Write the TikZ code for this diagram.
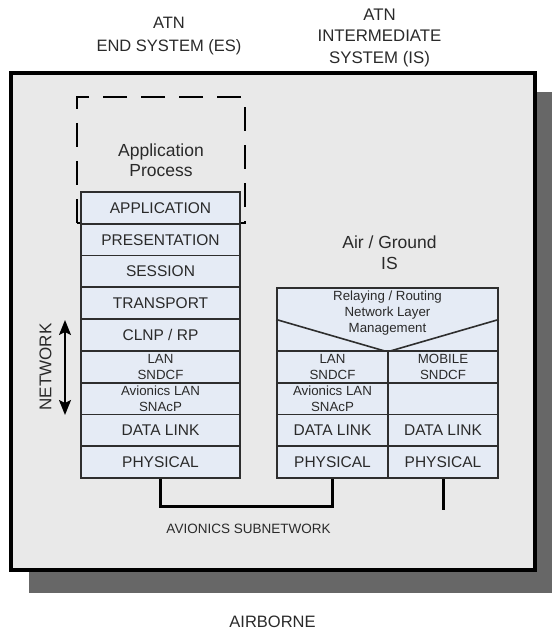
\documentclass[tikz,border=0pt]{standalone}
\usepackage{fontspec}
\setmainfont{Liberation Sans}
\usetikzlibrary{arrows.meta}
\definecolor{bggray}{HTML}{E9E9E9}
\definecolor{shadowgray}{HTML}{676767}
\definecolor{cellblue}{HTML}{E5EBF5}
\definecolor{edgecol}{HTML}{2E2E2E}
\definecolor{ink}{HTML}{2A2A2A}
\begin{document}
\begin{tikzpicture}[x=1pt,y=-1pt,
  cell/.style={draw=edgecol, line width=1.6pt, fill=cellblue, inner sep=0pt,
    minimum height=31.78pt, text=ink, align=center},
  bigcell/.style={cell, font=\fontsize{15.5}{18}\selectfont},
  smallcell/.style={cell, font=\fontsize{13.3}{16}\selectfont},
  eswide/.style={minimum width=159pt},
  isleft/.style={minimum width=111pt},
  isright/.style={minimum width=110pt},
  heading/.style={text=ink, align=center, inner sep=0pt},
  wire/.style={line width=3pt, draw=black},
]
\useasboundingbox (0,0) rectangle (552,631);
% shadow and frame
\fill[shadowgray] (29,92) rectangle (552,593);
\draw[line width=4pt, fill=bggray] (10.5,73.5) rectangle (535,570);

% application process (dashed)
\node[draw=black, line width=2pt, dash pattern=on 24pt off 14pt, dash phase=6pt,
  minimum width=168pt, minimum height=126pt, inner sep=0pt, text=ink, align=center,
  font=\fontsize{17.5}{20}\selectfont] (appproc) at (161,160) {Application\\Process};

% ES stack
\node[bigcell, eswide] (esapp) at (160.5,207.9) {APPLICATION};
\node[bigcell, eswide] (espres) at (160.5,239.7) {PRESENTATION};
\node[bigcell, eswide] (esses) at (160.5,271.4) {SESSION};
\node[bigcell, eswide] (estrans) at (160.5,303.2) {TRANSPORT};
\node[bigcell, eswide] (esclnp) at (160.5,335.0) {CLNP / RP};
\node[smallcell, eswide] (eslan) at (160.5,366.8) {LAN\\SNDCF};
\node[smallcell, eswide] (esavl) at (160.5,398.6) {Avionics LAN\\SNAcP};
\node[bigcell, eswide] (esdl) at (160.5,430.3) {DATA LINK};
\node[bigcell, eswide] (esph) at (160.5,462.1) {PHYSICAL};

% IS stack
\node[cell, minimum width=221pt, minimum height=63pt] (relay) at (387.5,319.5) {};
\draw[draw=edgecol, line width=1.6pt] (relay.west) -- (relay.south) -- (relay.east);
\node[heading, font=\fontsize{13.3}{16}\selectfont] (relaytxt) at (387.5,313.5)
  {Relaying / Routing\\Network Layer\\Management};
\node[smallcell, isleft] (isl1) at (332.5,366.8) {LAN\\SNDCF};
\node[smallcell, isright] (isr1) at (443,366.8) {MOBILE\\SNDCF};
\node[smallcell, isleft] (isl2) at (332.5,398.6) {Avionics LAN\\SNAcP};
\node[smallcell, isright] (isr2) at (443,398.6) {};
\node[bigcell, isleft] (isl3) at (332.5,430.3) {DATA LINK};
\node[bigcell, isright] (isr3) at (443,430.3) {DATA LINK};
\node[bigcell, isleft] (isl4) at (332.5,462.1) {PHYSICAL};
\node[bigcell, isright] (isr4) at (443,462.1) {PHYSICAL};

% connectors
\coordinate (bus) at (250,506);
\draw[wire] (esph.south) |- (bus) -| (isl4.south);
\coordinate (rend) at (443,510);
\draw[wire] (isr4.south) -- (rend);

% network arrow
\coordinate (nettop) at (65,320);
\coordinate (netbot) at (65,415);
\draw[line width=1.8pt, {Stealth[length=15pt,width=12pt,inset=3pt]}-{Stealth[length=15pt,width=12pt,inset=3pt]}] (nettop) -- (netbot);
\node[heading, rotate=90, font=\fontsize{17}{20}\selectfont] (netlbl) at (45.5,367) {NETWORK};

% headings
\node[heading, font=\fontsize{16.5}{23}\selectfont] (eshead) at (169,36.5) {ATN\\END SYSTEM (ES)};
\node[heading, font=\fontsize{16.8}{21.5}\selectfont] (ishead) at (379.5,37.5) {ATN\\INTERMEDIATE\\SYSTEM (IS)};
\node[heading, font=\fontsize{17.5}{21}\selectfont] (aghead) at (389.5,252.5) {Air / Ground\\IS};
\node[heading, anchor=base, font=\fontsize{13.5}{16}\selectfont] (avsub) at (248.5,533) {AVIONICS SUBNETWORK};
\node[heading, anchor=base, font=\fontsize{16.5}{20}\selectfont] (airb) at (272.5,627) {AIRBORNE};
\end{tikzpicture}
\end{document}
